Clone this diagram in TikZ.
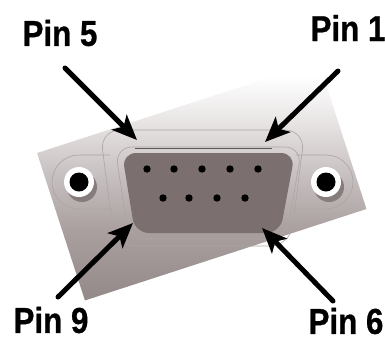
\documentclass[tikz,border=0pt]{standalone}
\usepackage{fontspec}
\usepackage{graphicx}
\setmainfont{Liberation Sans}
\newfontfamily\labelfont{Liberation Sans Bold}[FakeBold=0.8]
\usetikzlibrary{arrows.meta}
\definecolor{platedark}{HTML}{948989}
\definecolor{platemid}{HTML}{AAA0A0}
\definecolor{platelight}{HTML}{C9C2C2}
\definecolor{platepale}{HTML}{E7E3E3}
\definecolor{facegray}{HTML}{7B6F6F}
\definecolor{rimgray}{HTML}{ADA4A4}
\definecolor{shadowgray}{HTML}{877C7C}
\pgfdeclareverticalshading{platefade}{100bp}{color(0bp)=(platedark); color(25bp)=(platedark); color(40bp)=(platemid); color(52bp)=(platelight); color(62bp)=(platepale); color(72bp)=(white); color(100bp)=(white)}
\tikzset{
  pinlabel/.style={font=\labelfont\fontsize{36}{36}\selectfont, inner sep=0pt},
  pinarrow/.style={line width=5pt, line cap=round, -{Stealth[length=25pt,width=21pt,inset=6pt]}},
  rim/.style={draw=rimgray, line width=0.6pt}
}
\begin{document}
\begin{tikzpicture}[x=1pt,y=-1pt]
\useasboundingbox (0,0) rectangle (385,341);

% plate
\begin{scope}[shift={(201.75,181)}, rotate=18]
  \shade[shading=platefade] (-148,-77.5) rectangle (148,77.5);
\end{scope}

% flanges and shell
\draw[rim] (110,155) -- (79,155) arc[start angle=270, end angle=90, radius=27] -- (112,209);
\draw[rim] (296,155) -- (326,155) arc[start angle=270, end angle=450, radius=27] -- (293,209);
\draw[rim, rounded corners=20pt] (100,130) -- (305,130) -- (290,246) -- (115,246) -- cycle;
\draw[rim, rounded corners=17pt] (115,147) -- (302,147) -- (286,239) -- (129,239) -- cycle;
\draw[draw=gray!70!black, line width=0.8pt] (135,148) -- (272,148);
\fill[facegray, rounded corners=14pt] (122,153) -- (295,153) -- (280,233) -- (135,233) -- cycle;

% pins
\foreach \x in {147,174,202,230,258} \fill (\x,169) circle (3.7);
\foreach \x in {163,189,217,245} \fill (\x,198) circle (3.7);

% mounting holes
\foreach \x in {79,326} {
  \fill[shadowgray] (\x+3,187) circle (15);
  \fill[white] (\x,182) circle (15);
  \fill[black] (\x,182) circle (9.5);
}

% labels
\node[pinlabel] (pinfive) at (60,33) {\scalebox{0.87}[1]{Pin 5}};
\node[pinlabel] (pinone) at (348,28) {\scalebox{0.87}[1]{Pin 1}};
\node[pinlabel] (pinnine) at (51,320) {\scalebox{0.87}[1]{Pin 9}};
\node[pinlabel] (pinsix) at (346,321) {\scalebox{0.87}[1]{Pin 6}};

\coordinate (fivetail) at (65,68); \coordinate (fivetip) at (137,140);
\coordinate (onetail) at (338,71); \coordinate (onetip) at (265,142);
\coordinate (ninetail) at (58,297); \coordinate (ninetip) at (133,223);
\coordinate (sixtail) at (333,301); \coordinate (sixtip) at (262,228);

\draw[pinarrow] (fivetail) -- (fivetip); \draw[pinarrow] (onetail) -- (onetip);
\draw[pinarrow] (ninetail) -- (ninetip); \draw[pinarrow] (sixtail) -- (sixtip);
\end{tikzpicture}
\end{document}
